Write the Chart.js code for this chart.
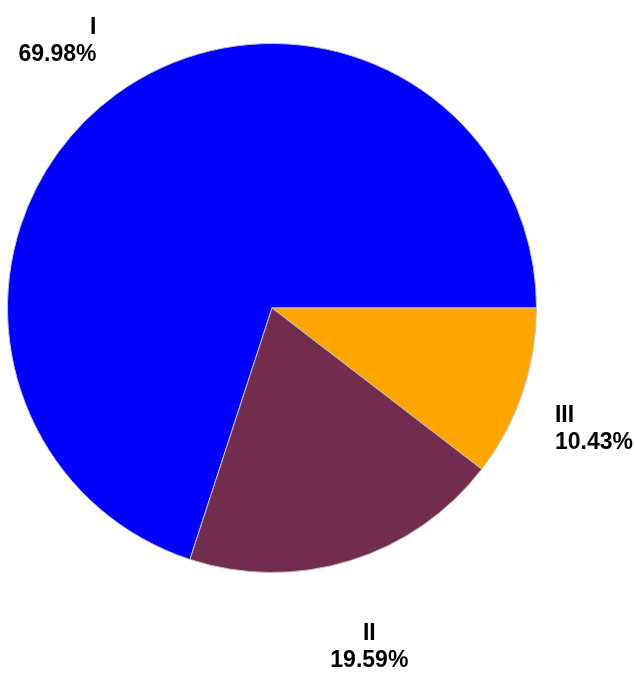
<!DOCTYPE html>
<html>
<head>
<meta charset="utf-8">
<script src="https://cdn.jsdelivr.net/npm/chart.js@4/dist/chart.umd.min.js"></script>
<style>
  html, body { margin: 0; padding: 0; background: #ffffff; }
  canvas { display: block; }
</style>
</head>
<body>
<canvas id="pieChart" width="635" height="681"></canvas>
<script>
// categories and shares (percent)
var categories = ["I", "II", "III"];
var shares = [69.98, 19.59, 10.43];
var sliceColors = ["#0000ff", "#722c4e", "#ffa500"];

// the source goes round counter-clockwise (I, II, III); Chart.js only goes clockwise,
// so draw I first and then the rest reversed
var drawOrder = [0, 2, 1];
var drawLabels = drawOrder.map(function(i) { return categories[i]; });
var drawShares = drawOrder.map(function(i) { return shares[i]; });
var drawColors = drawOrder.map(function(i) { return sliceColors[i]; });

// labels outside the pie: name on first line, percent below
var outsideLabels = {
    id: "outsideLabels",
    afterDatasetsDraw: function(chart) {
        var ctx = chart.ctx;
        var meta = chart.getDatasetMeta(0);
        var lineH = 27;
        ctx.save();
        ctx.fillStyle = "#000000";
        ctx.font = "bold 23px 'Liberation Sans', Arial, sans-serif";
        ctx.textBaseline = "top";
        meta.data.forEach(function(arc, i) {
            var mid = (arc.startAngle + arc.endAngle) / 2;
            var cx = Math.cos(mid), sy = Math.sin(mid);
            var lines = [drawLabels[i], drawShares[i].toFixed(2) + "%"];
            var blockH = lineH * 2 - 4;
            var x, top, dist;
            if (Math.abs(cx) < 0.4) {
                dist = arc.outerRadius * 1.245; //labels near the bottom sit a bit further out
                x = arc.x + cx * dist;
                ctx.textAlign = "center";
            } else {
                dist = arc.outerRadius * 1.13;
                x = arc.x + cx * dist;
                ctx.textAlign = cx > 0 ? "left" : "right";
            }
            var py = arc.y + sy * dist;
            top = sy > 0 ? py : py - blockH;
            for (var k = 0; k < lines.length; k++) {
                ctx.fillText(lines[k], x, top + k * lineH);
            }
        });
        ctx.restore();
    }
};

var ctx = document.getElementById("pieChart").getContext("2d");
var chart = new Chart(ctx, {
    type: "pie",
    data: {
        labels: drawLabels,
        datasets: [{
            data: drawShares,
            backgroundColor: drawColors,
            borderColor: "#c4c4c4",
            borderWidth: 1
        }]
    },
    options: {
        responsive: false,
        animation: false,
        rotation: 90 + (1 - shares[0] / 100) * 360, // slice I ends at 3 o'clock
        layout: {
            padding: { left: 7, right: 98, top: 43, bottom: 108 }
        },
        plugins: {
            legend: { display: false },
            tooltip: { enabled: false },
            title: { display: false }
        }
    },
    plugins: [outsideLabels]
});
</script>
</body>
</html>
